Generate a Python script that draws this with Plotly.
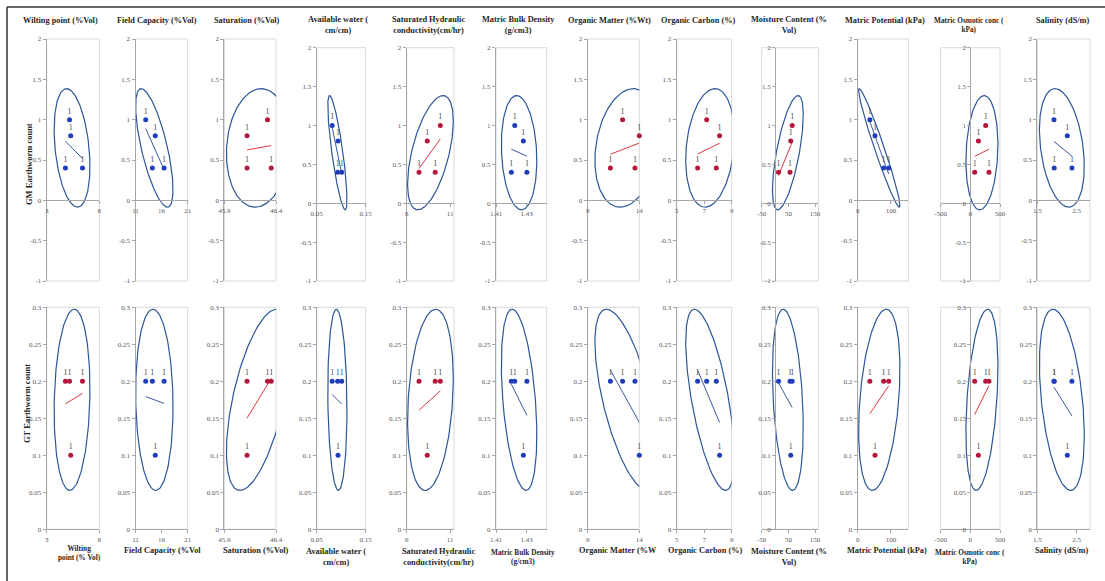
import numpy as np
import plotly.graph_objects as go

W, H = 1105, 581

# ---------------- data (4 soil samples) ----------------
GM_COUNT = [0.4, 1.0, 0.8, 0.4]   # top row, y
GT_COUNT = [0.2, 0.2, 0.1, 0.2]   # bottom row, y
POINT_LABELS = ["1", "1", "1", "1"]

WILTING_POINT = [4.78, 5.17, 5.28, 6.40]
FIELD_CAPACITY = [14.23, 12.95, 14.78, 16.48]
SATURATION = [46.12, 46.318, 46.12, 46.354]
AVAILABLE_WATER = [0.0928, 0.0816, 0.0935, 0.1010]
HYDRAULIC_COND = [7.42, 9.88, 8.37, 9.29]
BULK_DENSITY = [1.4200, 1.4222, 1.4278, 1.4301]
ORGANIC_MATTER = [11.20, 12.38, 14.00, 13.58]
ORGANIC_CARBON = [6.52, 7.18, 8.12, 7.88]
MOISTURE = [13.0, 64.1, 58.8, 56.0]
MATRIC_POTENTIAL = [77.8, 36.5, 52.0, 93.0]
OSMOTIC = [73, 258, 136, 314]
SALINITY = [1.930, 1.924, 2.263, 2.381]

X_DATA = [WILTING_POINT, FIELD_CAPACITY, SATURATION, AVAILABLE_WATER, HYDRAULIC_COND,
          BULK_DENSITY, ORGANIC_MATTER, ORGANIC_CARBON, MOISTURE, MATRIC_POTENTIAL,
          OSMOTIC, SALINITY]

TITLES_TOP = ["Wilting point (%Vol)", "Field Capacity (%Vol)", "Saturation (%Vol)",
              "Available water (<br>cm/cm)", "Saturated Hydraulic<br>conductivity(cm/hr)",
              "Matric Bulk Density<br>(g/cm3)", "Organic Matter (%Wt)", "Organic Carbon (%)",
              "Moisture Content (%<br>Vol)", "Matric Potential (kPa)",
              "Matric Osmotic conc (<br>kPa)", "Salinity (dS/m)"]
TITLES_BOTTOM = ["Wilting<br>point (% Vol)", "Field Capacity (%Vol", "Saturation (%Vol)",
                 "Available water (<br>cm/cm)", "Saturated Hydraulic<br>conductivity(cm/hr)",
                 "Matric Bulk Density<br>(g/cm3)", "Organic Matter (%W", "Organic Carbon (%)",
                 "Moisture Content (%<br>Vol)", "Matric Potential (kPa)",
                 "Matric Osmotic conc (<br>kPa)", "Salinity (dS/m)"]
Y_TITLE_TOP = "GM Earthworm count"
Y_TITLE_BOTTOM = "GT Earthworm count"

X_RANGES = [[3, 8], [11, 21], [45.9, 46.4], [0.05, 0.15], [6, 11.46], [1.41, 1.443],
            [9, 14], [5, 9], [-50, 162], [0, 152], [-500, 500], [1.5, 2.84]]
X_TICKS = [[3, 8], [11, 16, 21], [45.9, 46.4], [0.05, 0.15], [6, 11], [1.41, 1.43],
           [9, 14], [5, 7, 9], [-50, 50, 150], [0, 100], [-500, 0, 500], [1.5, 2.5]]
X_TICKTEXT = [["3", "8"], ["11", "16", "21"], ["45.9", "46.4"], ["0.05", "0.15"], ["6", "11"],
              ["1.41", "1.43"], ["9", "14"], ["5", "7", "9"], ["-50", "50", "150"],
              ["0", "100"], ["-500", "0", "500"], ["1.5", "2.5"]]
TOP_Y_RANGE = [-1, 2]
TOP_Y_TICKS = [-1, -0.5, 0, 0.5, 1, 1.5, 2]
TOP_Y_TICKTEXT = ["-1", "-0.5", "0", "0.5", "1", "1.5", "2"]
BOT_Y_RANGE = [0, 0.3]
BOT_Y_TICKS = [0, 0.05, 0.1, 0.15, 0.2, 0.25, 0.3]
BOT_Y_TICKTEXT = ["0", "0.05", "0.1", "0.15", "0.2", "0.25", "0.3"]

# ---------------- layout geometry (pixels) ----------------
BOX_L = [46.7, 135.5, 224.3, 316.7, 406.7, 496.0, 587.7, 676.7, 761.7, 857.7, 940.7, 1037.3]
BOX_R = [99.3, 187.7, 276.0, 365.7, 454.0, 546.7, 639.3, 731.7, 818.3, 908.3, 1000.0, 1090.0]
TWO_LINE = [False, False, False, True, True, True, False, False, True, False, True, False]
TOP_T1, TOP_T2, TOP_B = 39.0, 47.7, 281.0
BOT_T, BOT_B = 307.3, 529.3
Y_AXIS_AT_ZERO = [False] * 8 + [True, False, True, False]

TITLE_X_TOP = [60, 157, 247, 338, 428, 518, 609, 698, 789, 884.5, 969, 1062.5]
TITLE_X_BOT = [79, 162.7, 256, 336.5, 438, 523, 618, 705, 789, 886.7, 970, 1061.7]
SMALL_TOP = [False] * 10 + [True, False]
SMALL_BOT = [True, False, False, False, False, True, False, False, False, False, True, False]

SERIF = "Liberation Serif"
AX_COL = "#A6A6A6"
BOX_COL = "#D9D9D9"
TICK_FONT = dict(family=SERIF, size=7, color="#595959")
ELL_COL = "#2E5597"
BLUE_PT, BLUE_LN = "#1F3DBA", "#3A58A2"
RED_PT, RED_LN = "#B5173A", "#E0393E"


def conf_ellipse(x, y, n=160):
    x = np.asarray(x, float)
    y = np.asarray(y, float)
    cov = np.cov(x, y)
    vals, vecs = np.linalg.eigh(cov)
    k = np.sqrt(5.991)
    t = np.linspace(0, 2 * np.pi, n)
    circ = np.vstack([np.cos(t), np.sin(t)])
    pts = vecs @ (np.sqrt(np.maximum(vals, 0))[:, None] * circ) * k
    return x.mean() + pts[0], y.mean() + pts[1]


fig = go.Figure()
shapes = []
annotations = []
layout = {}

for row in range(2):
    yvals = GM_COUNT if row == 0 else GT_COUNT
    for c in range(12):
        n = row * 12 + c + 1
        xs = "x" if n == 1 else f"x{n}"
        ys = "y" if n == 1 else f"y{n}"
        xk = "xaxis" if n == 1 else f"xaxis{n}"
        yk = "yaxis" if n == 1 else f"yaxis{n}"
        xv = X_DATA[c]
        if row == 0:
            t = TOP_T2 if TWO_LINE[c] else TOP_T1
            b = TOP_B
            yr, ytv, ytt = TOP_Y_RANGE, TOP_Y_TICKS, TOP_Y_TICKTEXT
        else:
            t, b = BOT_T, BOT_B
            yr, ytv, ytt = BOT_Y_RANGE, BOT_Y_TICKS, BOT_Y_TICKTEXT
        xd = [BOX_L[c] / W, BOX_R[c] / W]
        yd = [1 - b / H, 1 - t / H]

        xaxis = dict(domain=xd, range=X_RANGES[c], tickvals=X_TICKS[c], ticktext=X_TICKTEXT[c],
                     showline=True, linecolor=AX_COL, linewidth=1, ticks="outside", ticklen=3,
                     tickcolor=AX_COL, tickfont=TICK_FONT, showgrid=False, zeroline=False,
                     fixedrange=True)
        if row == 0:
            pos = yd[0] + (0 - yr[0]) / (yr[1] - yr[0]) * (yd[1] - yd[0])
            xaxis.update(anchor="free", position=pos)
        else:
            xaxis.update(anchor=ys)
        yaxis = dict(domain=yd, range=yr, tickvals=ytv, ticktext=ytt, showline=True,
                     linecolor=AX_COL, linewidth=1, ticks="outside", ticklen=3,
                     tickcolor=AX_COL, tickfont=TICK_FONT, showgrid=False, zeroline=False,
                     fixedrange=True)
        if Y_AXIS_AT_ZERO[c]:
            xr = X_RANGES[c]
            pos = xd[0] + (0 - xr[0]) / (xr[1] - xr[0]) * (xd[1] - xd[0])
            yaxis.update(anchor="free", position=pos)
        else:
            yaxis.update(anchor=xs)
        layout[xk] = xaxis
        layout[yk] = yaxis

        shapes.append(dict(type="rect", xref=f"{xs} domain", yref=f"{ys} domain",
                           x0=0, x1=1, y0=0, y1=1, line=dict(color=BOX_COL, width=1),
                           layer="below"))

        # 95% confidence ellipse
        ex, ey = conf_ellipse(xv, yvals)
        fig.add_trace(go.Scatter(x=ex, y=ey, mode="lines", xaxis=xs, yaxis=ys,
                                 line=dict(color=ELL_COL, width=1.2), hoverinfo="skip"))
        # linear trend line
        slope, icpt = np.polyfit(xv, yvals, 1)
        lx = np.array([min(xv), max(xv)])
        pos_slope = slope > 0
        fig.add_trace(go.Scatter(x=lx, y=slope * lx + icpt, mode="lines", xaxis=xs, yaxis=ys,
                                 line=dict(color=RED_LN if pos_slope else BLUE_LN, width=1),
                                 hoverinfo="skip"))
        # points with labels
        fig.add_trace(go.Scatter(x=xv, y=yvals, mode="markers+text", xaxis=xs, yaxis=ys,
                                 marker=dict(size=5, color=RED_PT if pos_slope else BLUE_PT),
                                 text=POINT_LABELS, textposition="top center",
                                 textfont=dict(family=SERIF, size=8, color="#4D4D4D"),
                                 cliponaxis=False))

        # titles
        if row == 0:
            ty = 24.7 if TWO_LINE[c] else 20
            txt, tx, small = TITLES_TOP[c], TITLE_X_TOP[c], SMALL_TOP[c]
        else:
            ty = 556.7 if "<br>" in TITLES_BOTTOM[c] else 550.5
            if c == 0:
                ty = 552.5
            txt, tx, small = TITLES_BOTTOM[c], TITLE_X_BOT[c], SMALL_BOT[c]
        annotations.append(dict(text=f"<b>{txt}</b>", xref="paper", yref="paper",
                                x=tx / W, y=1 - ty / H, xanchor="center", yanchor="middle",
                                showarrow=False,
                                font=dict(family=SERIF, size=7.3 if small else 8.3,
                                          color="#262626")))

annotations.append(dict(text=f"<b>{Y_TITLE_TOP}</b>", xref="paper", yref="paper",
                        x=29 / W, y=1 - 164 / H, textangle=-90, showarrow=False,
                        xanchor="center", yanchor="middle",
                        font=dict(family=SERIF, size=8.5, color="#262626")))
annotations.append(dict(text=f"<b>{Y_TITLE_BOTTOM}</b>", xref="paper", yref="paper",
                        x=27 / W, y=1 - 404 / H, textangle=-90, showarrow=False,
                        xanchor="center", yanchor="middle",
                        font=dict(family=SERIF, size=8.5, color="#262626")))

# outer frame (top and left edges)
shapes.append(dict(type="line", xref="paper", yref="paper", x0=7 / W, x1=1, y0=1 - 7 / H,
                   y1=1 - 7 / H, line=dict(color="#333333", width=1.5)))
shapes.append(dict(type="line", xref="paper", yref="paper", x0=7 / W, x1=7 / W, y0=0,
                   y1=1 - 7 / H, line=dict(color="#333333", width=1.5)))

fig.update_layout(width=W, height=H, margin=dict(l=0, r=0, t=0, b=0, autoexpand=False),
                  paper_bgcolor="white", plot_bgcolor="white", showlegend=False,
                  shapes=shapes, annotations=annotations, **layout)

fig.write_html("out.html")
